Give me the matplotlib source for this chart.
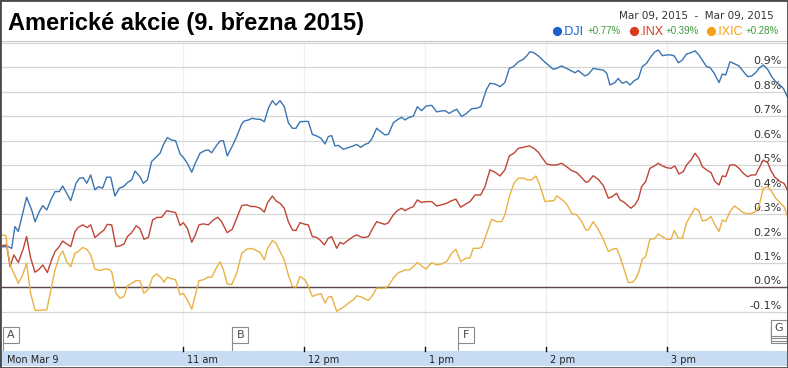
import matplotlib.pyplot as plt
import matplotlib.transforms as mtrans
from matplotlib.lines import Line2D
from matplotlib.patches import Rectangle

# intraday change vs. previous close, (minutes after 9:30, percent)
dji_pts = [
    (0, 0.165), (3.1, 0.166), (4.8, 0.159), (6.4, 0.248), (8.1, 0.228), (12.2, 0.368), (14.7, 0.316),
    (16.4, 0.268), (18.5, 0.309), (20.2, 0.334), (22.2, 0.316), (24.6, 0.364), (26.3, 0.391), (28.4, 0.391),
    (30.1, 0.414), (32.1, 0.384), (34.1, 0.354), (36.7, 0.425), (38.4, 0.446), (40.3, 0.448), (42.0, 0.425),
    (44.0, 0.459), (46.1, 0.398), (47.8, 0.411), (49.9, 0.405), (51.9, 0.450), (53.9, 0.450), (56.0, 0.373),
    (58.2, 0.405), (60.2, 0.411), (62.2, 0.428), (64.3, 0.439), (66.0, 0.475), (68.4, 0.452), (70.1, 0.425),
    (72.1, 0.439), (74.2, 0.514), (76.7, 0.534), (78.4, 0.548), (80.0, 0.582), (82.0, 0.612), (84.1, 0.602),
    (86.1, 0.599), (88.3, 0.545), (89.9, 0.531), (91.9, 0.507), (94.1, 0.470), (95.7, 0.504), (98.2, 0.548),
    (100.7, 0.559), (102.3, 0.561), (104.0, 0.550), (106.0, 0.575), (108.1, 0.598), (109.8, 0.599),
    (111.7, 0.537), (113.9, 0.572), (116.4, 0.616), (118.9, 0.668), (120.2, 0.680), (122.2, 0.684),
    (124.1, 0.691), (126.3, 0.687), (128.0, 0.687), (130.1, 0.677), (132.1, 0.732), (134.1, 0.763),
    (135.9, 0.745), (137.9, 0.763), (140.0, 0.738), (142.0, 0.673), (144.0, 0.650), (145.8, 0.650),
    (147.8, 0.677), (150.3, 0.678), (151.9, 0.678), (153.9, 0.625), (156.0, 0.619), (158.2, 0.609),
    (160.2, 0.586), (161.8, 0.616), (163.5, 0.620), (165.1, 0.578), (166.8, 0.580), (169.3, 0.564),
    (171.8, 0.571), (174.2, 0.578), (175.9, 0.584), (177.9, 0.572), (180.0, 0.584), (181.7, 0.589),
    (183.3, 0.605), (185.8, 0.650), (187.8, 0.636), (189.9, 0.623), (191.6, 0.625), (194.1, 0.673),
    (196.5, 0.687), (198.2, 0.695), (199.9, 0.684), (201.5, 0.693), (204.0, 0.700), (206.0, 0.738),
    (208.1, 0.722), (210.3, 0.741), (213.1, 0.744), (215.6, 0.717), (218.0, 0.721), (219.7, 0.722),
    (221.8, 0.711), (223.8, 0.721), (225.5, 0.728), (227.9, 0.698), (230.4, 0.711), (232.9, 0.730),
    (235.4, 0.732), (237.4, 0.738), (240.3, 0.809), (242.0, 0.834), (244.5, 0.831), (247.0, 0.820),
    (249.4, 0.837), (251.6, 0.895), (253.6, 0.902), (256.1, 0.922), (258.5, 0.932), (260.2, 0.946),
    (261.8, 0.963), (263.8, 0.959), (266.0, 0.946), (268.5, 0.926), (270.9, 0.909), (273.4, 0.891),
    (275.1, 0.895), (277.5, 0.905), (280.0, 0.895), (282.5, 0.884), (284.2, 0.877), (285.8, 0.886),
    (289.1, 0.864), (290.8, 0.871), (293.2, 0.895), (295.7, 0.891), (298.2, 0.888), (299.9, 0.875),
    (301.5, 0.827), (304.0, 0.837), (305.6, 0.854), (307.6, 0.834), (309.8, 0.841), (311.4, 0.827),
    (313.6, 0.845), (315.6, 0.854), (317.5, 0.902), (319.7, 0.916), (321.8, 0.943), (323.8, 0.963),
    (325.5, 0.970), (327.5, 0.947), (329.6, 0.950), (331.8, 0.950), (333.4, 0.946), (335.4, 0.918),
    (337.4, 0.929), (339.5, 0.954), (341.7, 0.959), (343.7, 0.967), (345.6, 0.950), (347.3, 0.929),
    (349.4, 0.902), (351.1, 0.899), (353.2, 0.875), (355.6, 0.837), (357.2, 0.872), (358.9, 0.868),
    (361.0, 0.922), (363.5, 0.913), (365.5, 0.905), (367.1, 0.888), (369.8, 0.861), (371.8, 0.864),
    (373.7, 0.877), (375.4, 0.895), (377.5, 0.909), (379.7, 0.891), (381.7, 0.861), (383.7, 0.841),
    (385.8, 0.827), (387.5, 0.813), (390.0, 0.770),
]

inx_pts = [
    (0, 0.170), (2.3, 0.173), (4.0, 0.084), (5.9, 0.132), (8.1, 0.101), (10.6, 0.159), (12.2, 0.207),
    (14.2, 0.119), (16.4, 0.061), (18.5, 0.074), (20.2, 0.091), (22.5, 0.060), (24.6, 0.112), (26.3, 0.146),
    (28.4, 0.166), (30.1, 0.189), (32.1, 0.177), (34.1, 0.166), (36.2, 0.228), (37.9, 0.245), (40.0, 0.255),
    (42.3, 0.244), (44.0, 0.255), (46.1, 0.203), (48.6, 0.221), (50.6, 0.234), (52.2, 0.257), (54.4, 0.255),
    (56.5, 0.166), (58.5, 0.169), (60.5, 0.177), (62.2, 0.207), (64.3, 0.223), (66.5, 0.251), (68.4, 0.240),
    (70.4, 0.196), (72.6, 0.204), (74.7, 0.275), (76.7, 0.285), (79.2, 0.286), (81.7, 0.313), (84.1, 0.309),
    (86.1, 0.305), (88.3, 0.252), (89.9, 0.264), (91.9, 0.241), (94.1, 0.184), (95.7, 0.210), (97.7, 0.255),
    (99.8, 0.259), (102.3, 0.255), (104.8, 0.275), (107.0, 0.286), (108.9, 0.268), (111.7, 0.223),
    (114.2, 0.237), (116.4, 0.282), (118.9, 0.334), (121.3, 0.337), (123.5, 0.330), (125.5, 0.330),
    (128.0, 0.323), (130.1, 0.307), (131.7, 0.346), (134.1, 0.373), (135.9, 0.353), (137.9, 0.343),
    (140.0, 0.323), (142.0, 0.268), (144.0, 0.234), (145.8, 0.232), (147.8, 0.264), (150.3, 0.257),
    (151.9, 0.255), (153.9, 0.207), (156.0, 0.204), (157.7, 0.193), (159.9, 0.173), (161.8, 0.200),
    (163.5, 0.207), (166.0, 0.159), (167.6, 0.183), (169.3, 0.177), (171.8, 0.193), (174.2, 0.207),
    (175.9, 0.214), (178.4, 0.204), (180.3, 0.204), (181.7, 0.207), (183.6, 0.237), (185.8, 0.268),
    (187.8, 0.262), (189.9, 0.257), (191.6, 0.264), (194.1, 0.296), (196.0, 0.313), (198.2, 0.323),
    (199.9, 0.313), (202.0, 0.323), (204.0, 0.330), (206.0, 0.357), (208.1, 0.347), (210.6, 0.350),
    (213.1, 0.350), (215.6, 0.332), (218.0, 0.337), (220.5, 0.343), (223.0, 0.354), (225.1, 0.360),
    (227.5, 0.327), (230.1, 0.341), (232.1, 0.350), (234.6, 0.377), (237.4, 0.377), (239.5, 0.411),
    (242.0, 0.480), (244.5, 0.470), (247.0, 0.455), (249.4, 0.480), (251.6, 0.537), (253.9, 0.548),
    (256.1, 0.568), (258.5, 0.572), (261.5, 0.578), (263.8, 0.568), (266.0, 0.552), (268.1, 0.527),
    (270.1, 0.504), (272.6, 0.500), (275.1, 0.500), (277.5, 0.507), (280.0, 0.493), (282.5, 0.477),
    (285.0, 0.469), (287.5, 0.448), (289.6, 0.429), (290.8, 0.432), (293.2, 0.456), (295.7, 0.441),
    (298.2, 0.416), (300.7, 0.364), (302.7, 0.371), (304.8, 0.384), (306.5, 0.357), (308.6, 0.347),
    (310.3, 0.334), (311.9, 0.323), (313.9, 0.337), (315.6, 0.360), (317.2, 0.411), (319.2, 0.432),
    (321.3, 0.486), (323.5, 0.496), (325.5, 0.507), (327.5, 0.496), (329.6, 0.489), (331.8, 0.486),
    (333.7, 0.496), (335.7, 0.463), (337.9, 0.473), (339.5, 0.500), (341.7, 0.520), (343.7, 0.548),
    (345.6, 0.527), (347.3, 0.493), (349.4, 0.480), (351.6, 0.469), (353.6, 0.432), (355.6, 0.418),
    (357.2, 0.455), (358.9, 0.452), (361.0, 0.500), (363.5, 0.500), (365.5, 0.486), (367.6, 0.466),
    (369.8, 0.452), (371.8, 0.459), (373.7, 0.459), (375.4, 0.486), (377.5, 0.520), (379.7, 0.510),
    (381.3, 0.477), (383.3, 0.450), (385.8, 0.432), (387.8, 0.425), (390.0, 0.390),
]

ixic_pts = [
    (0, 0.214), (2.0, 0.210), (2.6, 0.159), (4.3, 0.084), (5.9, 0.057), (8.1, 0.016), (10.2, 0.050),
    (12.2, 0.098), (14.2, -0.025), (16.4, -0.095), (18.5, -0.095), (20.2, -0.093), (22.2, -0.093),
    (24.6, 0.003), (26.3, 0.071), (28.4, 0.125), (30.1, 0.148), (32.1, 0.105), (34.1, 0.084), (36.2, 0.139),
    (37.9, 0.146), (40.0, 0.163), (42.3, 0.153), (44.0, 0.132), (46.1, 0.074), (48.6, 0.068), (50.6, 0.074),
    (52.7, 0.074), (54.4, 0.064), (56.5, -0.025), (58.5, -0.045), (60.5, -0.038), (62.2, 0.005),
    (64.3, 0.016), (66.5, 0.027), (68.4, 0.027), (70.4, -0.025), (72.6, -0.008), (74.7, 0.041),
    (76.7, 0.054), (79.2, 0.037), (80.3, 0.020), (82.0, 0.041), (84.1, 0.035), (86.1, 0.030),
    (88.3, -0.031), (89.9, -0.025), (91.9, -0.052), (94.1, -0.090), (95.7, -0.038), (97.7, 0.027),
    (99.8, 0.030), (102.0, 0.041), (104.0, 0.041), (106.0, 0.074), (108.1, 0.104), (109.8, 0.071),
    (111.7, 0.014), (113.9, 0.010), (116.4, 0.057), (118.9, 0.139), (121.3, 0.155), (123.5, 0.159),
    (125.5, 0.153), (128.0, 0.142), (130.1, 0.112), (131.7, 0.159), (134.1, 0.191), (135.9, 0.180),
    (137.9, 0.146), (140.0, 0.112), (142.0, 0.050), (144.0, 0.003), (145.8, 0.000), (147.8, 0.044),
    (150.3, 0.030), (151.9, 0.003), (153.9, -0.038), (156.0, -0.031), (158.2, -0.027), (160.2, -0.065),
    (161.8, -0.041), (163.5, -0.038), (166.0, -0.099), (167.6, -0.090), (169.3, -0.082), (171.8, -0.065),
    (174.2, -0.052), (175.9, -0.035), (178.4, -0.041), (180.3, -0.049), (181.7, -0.054), (183.6, -0.035),
    (185.8, -0.004), (187.8, -0.004), (189.9, -0.004), (191.6, 0.005), (194.1, 0.037), (196.5, 0.060),
    (198.2, 0.064), (199.9, 0.071), (202.0, 0.071), (204.0, 0.084), (206.0, 0.101), (208.1, 0.087),
    (210.3, 0.074), (213.1, 0.101), (215.6, 0.091), (218.0, 0.095), (220.5, 0.105), (223.0, 0.139),
    (225.1, 0.155), (227.5, 0.105), (230.1, 0.119), (232.1, 0.119), (233.7, 0.159), (236.2, 0.159),
    (237.9, 0.163), (240.3, 0.218), (242.8, 0.278), (245.3, 0.268), (247.8, 0.268), (249.4, 0.296),
    (251.6, 0.371), (253.9, 0.425), (256.1, 0.446), (258.5, 0.446), (260.5, 0.439), (262.7, 0.439),
    (264.8, 0.455), (266.5, 0.422), (269.3, 0.350), (271.8, 0.353), (273.7, 0.354), (275.1, 0.373),
    (277.5, 0.360), (280.0, 0.341), (282.5, 0.302), (285.0, 0.296), (287.5, 0.268), (289.6, 0.234),
    (290.8, 0.234), (293.2, 0.268), (295.7, 0.237), (298.2, 0.196), (300.7, 0.146), (302.7, 0.155),
    (304.8, 0.159), (306.5, 0.125), (308.6, 0.071), (310.6, 0.019), (312.6, 0.020), (314.2, 0.033),
    (315.9, 0.064), (317.5, 0.114), (319.2, 0.125), (321.3, 0.196), (323.5, 0.198), (325.5, 0.218),
    (327.5, 0.207), (329.6, 0.196), (331.8, 0.196), (333.4, 0.232), (335.4, 0.200), (337.4, 0.200),
    (339.5, 0.264), (341.7, 0.296), (343.7, 0.323), (345.6, 0.313), (347.3, 0.271), (349.4, 0.275),
    (351.6, 0.289), (353.6, 0.255), (355.6, 0.228), (357.2, 0.275), (358.9, 0.268), (361.0, 0.309),
    (363.2, 0.332), (365.5, 0.319), (367.6, 0.305), (369.8, 0.300), (371.8, 0.302), (373.7, 0.309),
    (375.4, 0.330), (377.5, 0.405), (379.7, 0.411), (381.7, 0.391), (383.7, 0.364), (385.8, 0.346),
    (387.8, 0.330), (390.0, 0.280),
]

symbols = ['.DJI', '.INX', '.IXIC']
changes = ['+0.77%', '+0.39%', '+0.28%']
line_colors = ['#3a74b2', '#bf4536', '#eab144']
dot_colors = ['#1d60c9', '#d83a1c', '#f59f18']

grid_levels = [-0.1, 0.0, 0.1, 0.2, 0.3, 0.4, 0.5, 0.6, 0.7, 0.8, 0.9, 1.0]
label_levels = [-0.1, 0.0, 0.1, 0.2, 0.3, 0.4, 0.5, 0.6, 0.7, 0.8, 0.9]
hour_marks = [90, 150, 210, 270, 330]          # 11am .. 3pm, minutes after 9:30
hour_labels = ['11 am', '12 pm', '1 pm', '2 pm', '3 pm']
flag_times = [0.6, 114.2, 226.0, 381.2]
flag_letters = ['A', 'B', 'F', 'G']

W, H = 788, 368


def fx(x):
    return x / W


def fy(y):
    return 1 - y / H


fig = plt.figure(figsize=(W / 100, H / 100), dpi=100)
ax = fig.add_axes([fx(2), fy(351), 786 / W, (351 - 41) / H])
ax.set_xlim(0, 389.8)
ax.set_ylim(-0.261, 1.007)
for s in ['left', 'right', 'bottom']:
    ax.spines[s].set_visible(False)
ax.spines['top'].set_color('#c8c8c8')
ax.set_xticks([])
ax.set_yticks([])

# grid
for m in hour_marks:
    ax.axvline(m, color='#efefef', lw=0.9, zorder=0.5)
for v in grid_levels:
    ax.axhline(v, color='#d5d5d5', lw=0.9, zorder=1)
ax.axhline(0, color='#5a4848', lw=1.0, zorder=2)

ytrans = mtrans.blended_transform_factory(ax.transAxes, ax.transData)
for v in label_levels:
    ax.text(0.992, v + 0.003, f'{v:.1f}%', transform=ytrans, ha='right', va='bottom',
            fontsize=8, color='#333333', zorder=2.5)

# series
for pts, c in zip([dji_pts, inx_pts, ixic_pts], line_colors):
    t, v = zip(*pts)
    ax.plot(t, v, color=c, lw=1.0, zorder=3, solid_joinstyle='round')

# time band at the bottom
fig.add_artist(Rectangle((0, fy(366)), 1, 15 / H, transform=fig.transFigure,
                         facecolor='#c7dbf2', edgecolor='none'))
btrans = mtrans.blended_transform_factory(ax.transData, fig.transFigure)
for m, lab in zip(hour_marks, hour_labels):
    fig.add_artist(Line2D([m, m], [fy(351), fy(347)], transform=btrans, color='#111111', lw=1.0))
    fig.text(m + 1.6, fy(360), lab, transform=btrans, ha='left', va='center',
             fontsize=7, color='#222222')
fig.text(2.6, fy(360), 'Mon Mar 9', transform=btrans, ha='left', va='center',
         fontsize=7, color='#222222')

# event flags
xtrans = ax.get_xaxis_transform()
box_w = 7.9
box_h = 16 / 310
for t, letter in zip(flag_times, flag_letters):
    if letter == 'G':
        y0 = 15 / 310
        for k in [3, 2, 1]:
            ax.add_patch(Rectangle((t, y0 - k * 2.3 / 310), box_w, box_h, transform=xtrans,
                                   facecolor='white', edgecolor='#8a8a8a', lw=0.8,
                                   zorder=4, clip_on=False))
    else:
        y0 = 8 / 310
        ax.plot([t, t], [0, y0], transform=xtrans, color='#8a8a8a', lw=0.8, zorder=4,
                clip_on=False)
    ax.add_patch(Rectangle((t, y0), box_w, box_h, transform=xtrans, facecolor='white',
                           edgecolor='#8a8a8a', lw=0.8, zorder=4, clip_on=False))
    ax.text(t + box_w / 2, y0 + box_h / 2, letter, transform=xtrans, ha='center',
            va='center', fontsize=8, color='#4a4a4a', zorder=5)

# title and header
fig.text(fx(8), fy(30), 'Americké akcie (9. března 2015)', family='Liberation Sans',
         fontweight='bold', fontsize=17, color='black', va='baseline')
fig.text(fx(774), fy(18.5), 'Mar 09, 2015  -  Mar 09, 2015', fontsize=7.5,
         color='#333333', ha='right', va='baseline')

dot_x = [557, 634, 710.5]
sym_x = [562, 639.5, 716]
chg_x = [588, 666, 746]
for i in range(3):
    fig.add_artist(Line2D([fx(dot_x[i])], [fy(30.5)], transform=fig.transFigure, marker='o',
                          ms=5.6, color=dot_colors[i], lw=0))
    fig.text(fx(sym_x[i]), fy(35), symbols[i], family='Liberation Sans', fontsize=9,
             color=dot_colors[i], va='baseline')
    fig.text(fx(chg_x[i]), fy(34.5), changes[i], family='Liberation Sans', fontsize=7,
             color='#3a9a3a', va='baseline')

# frame
fig.add_artist(Rectangle((0, 0), 1, 1, transform=fig.transFigure, fill=False,
                         edgecolor='#4a4a4a', lw=2))

fig.savefig('out.png', dpi=100)
